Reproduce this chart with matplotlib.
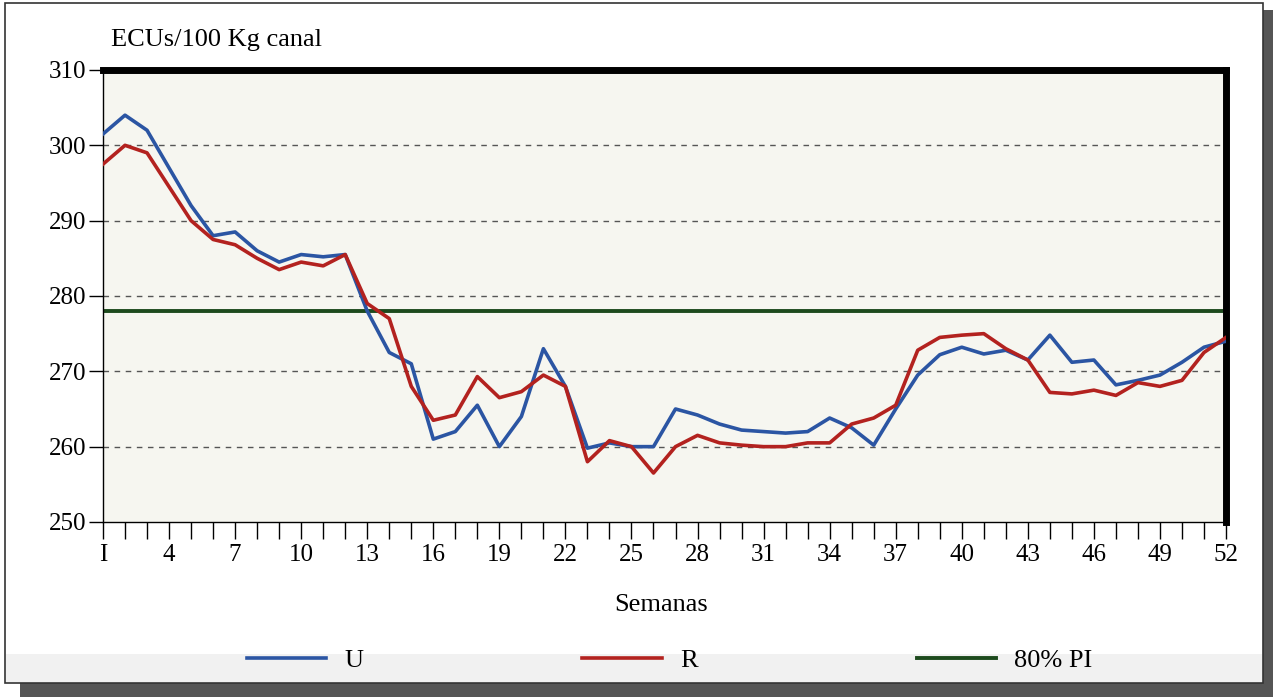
import matplotlib.pyplot as plt
from matplotlib.patches import Rectangle

plt.rcParams['font.family'] = ['Liberation Serif', 'DejaVu Serif']

weeks = list(range(1, 53))

# Serie U (azul)
u_values = [301.5, 304.0, 302.0, 297.0, 292.0, 288.0, 288.5, 286.0, 284.5, 285.5,
            285.2, 285.5, 278.0, 272.5, 271.0, 261.0, 262.0, 265.5, 260.0, 264.0,
            273.0, 268.0, 259.8, 260.5, 260.0, 260.0, 265.0, 264.2, 263.0, 262.2,
            262.0, 261.8, 262.0, 263.8, 262.5, 260.2, 265.0, 269.5, 272.2, 273.2,
            272.3, 272.8, 271.5, 274.8, 271.2, 271.5, 268.2, 268.8, 269.5, 271.2,
            273.2, 274.0]

# Serie R (roja)
r_values = [297.5, 300.0, 299.0, 294.5, 290.0, 287.5, 286.8, 285.0, 283.5, 284.5,
            284.0, 285.5, 279.0, 277.0, 268.0, 263.5, 264.2, 269.3, 266.5, 267.3,
            269.5, 268.0, 258.0, 260.8, 260.0, 256.5, 260.0, 261.5, 260.5, 260.2,
            260.0, 260.0, 260.5, 260.5, 263.0, 263.8, 265.5, 272.8, 274.5, 274.8,
            275.0, 273.0, 271.5, 267.2, 267.0, 267.5, 266.8, 268.5, 268.0, 268.8,
            272.5, 274.5]

pi_level = 278.0
x_ticks = list(range(1, 53, 3))
y_ticks = [250, 260, 270, 280, 290, 300, 310]
grid_levels = [260, 270, 280, 290, 300]

fig = plt.figure(figsize=(12.73, 6.97), dpi=100)

# Frame with shadow
fig.patches.append(Rectangle((0.016, 0.0), 0.984, 0.985, transform=fig.transFigure,
                             facecolor='#555555', edgecolor='none', zorder=-3))
fig.patches.append(Rectangle((0.004, 0.02), 0.988, 0.975, transform=fig.transFigure,
                             facecolor='white', edgecolor='#333333', linewidth=1.2, zorder=-2))
fig.patches.append(Rectangle((0.005, 0.021), 0.986, 0.04, transform=fig.transFigure,
                             facecolor='#f1f1f1', edgecolor='none', zorder=-1))

ax = fig.add_axes([0.0809, 0.2511, 0.8822, 0.6485])
ax.set_facecolor('#f6f6f0')

ax.plot(weeks, u_values, color='#2b55a3', linewidth=2.6, label='U', zorder=3)
ax.plot(weeks, r_values, color='#b3221f', linewidth=2.6, label='R', zorder=3)
ax.axhline(pi_level, color='#1d4a1d', linewidth=2.8, label='80% PI', zorder=2)

for y in grid_levels:
    ax.axhline(y, color='#555555', linewidth=1.0, linestyle=(0, (4, 4)), zorder=1)

ax.set_xlim(1, 52)
ax.set_ylim(250, 310)
ax.set_xticks(x_ticks)
ax.set_xticks(weeks, minor=True)
ax.set_xticklabels(['I' if t == 1 else str(t) for t in x_ticks])
ax.set_yticks(y_ticks)

ax.tick_params(axis='x', which='both', direction='out', length=12, width=1,
               labelsize=18, pad=4)
ax.tick_params(axis='y', direction='out', length=10, width=1, labelsize=18, pad=2)

for side in ['left', 'bottom']:
    ax.spines[side].set_linewidth(1.0)
ax.spines['top'].set_linewidth(5)
ax.spines['right'].set_linewidth(5)

fig.text(0.087, 0.934, 'ECUs/100 Kg canal', fontsize=19, ha='left', va='baseline')
fig.text(0.519, 0.132, 'Semanas', fontsize=19, ha='center', va='center')

fig.legend(loc='center', bbox_to_anchor=(0.526, 0.052), ncol=3, frameon=False,
           fontsize=19, handlelength=3.0, columnspacing=8.3, handletextpad=0.7)

fig.savefig('out.png', dpi=100)
